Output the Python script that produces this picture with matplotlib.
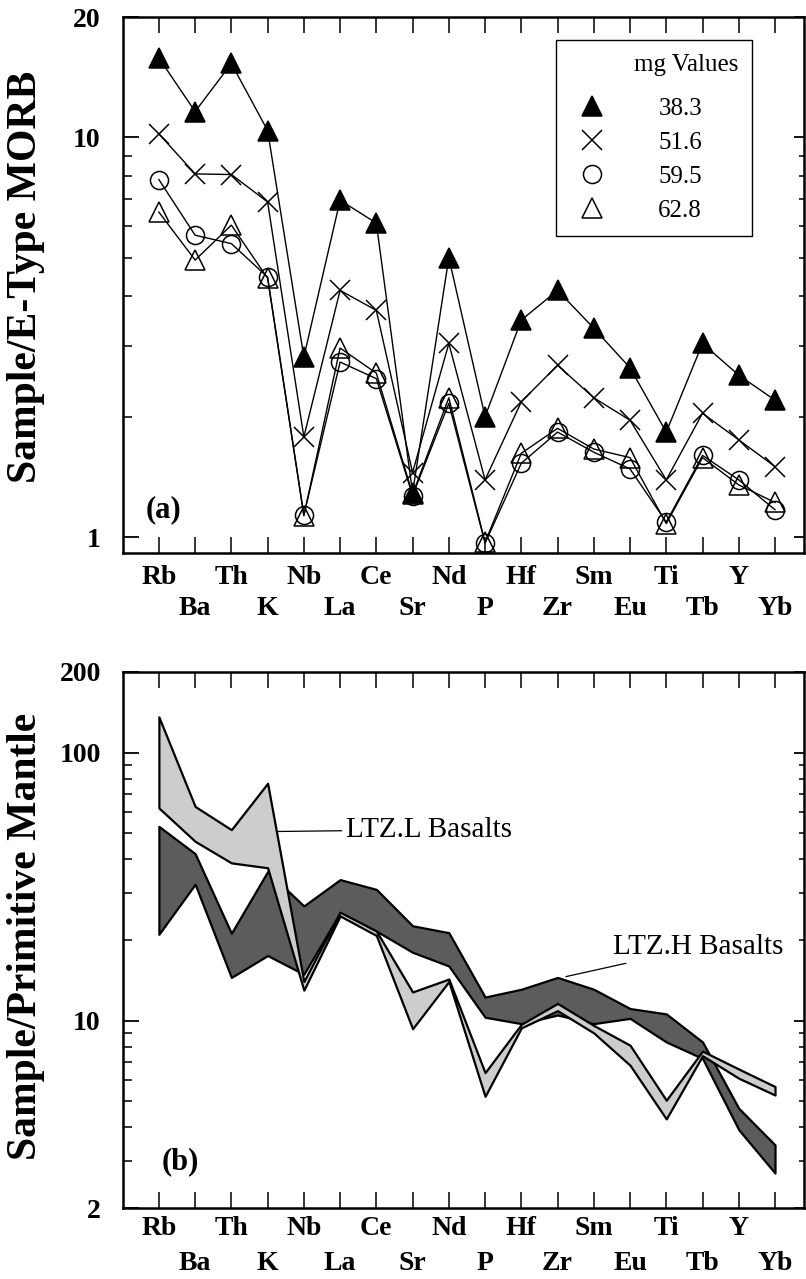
import matplotlib
matplotlib.use('Agg')
import matplotlib.pyplot as plt
from matplotlib.lines import Line2D
from matplotlib.ticker import FixedLocator, NullFormatter
import numpy as np

# element order on the spider diagrams
elements = ['Rb', 'Ba', 'Th', 'K', 'Nb', 'La', 'Ce', 'Sr', 'Nd', 'P',
            'Hf', 'Zr', 'Sm', 'Eu', 'Ti', 'Tb', 'Y', 'Yb']

# (a) sample / E-type MORB, one series per mg value
mg_labels = ['38.3', '51.6', '59.5', '62.8']
mg_383 = [15.8, 11.6, 15.3, 10.4, 2.82, 6.96, 6.1, 1.29, 5.0, 2.0,
          3.49, 4.14, 3.33, 2.65, 1.83, 3.05, 2.54, 2.2]
mg_516 = [10.2, 8.1, 8.07, 6.89, 1.78, 4.14, 3.69, 1.45, 3.05, 1.39,
          2.18, 2.69, 2.23, 1.96, 1.39, 2.04, 1.75, 1.50]
mg_595 = [7.84, 5.69, 5.42, 4.47, 1.135, 2.74, 2.49, 1.27, 2.16, 0.965,
          1.53, 1.83, 1.63, 1.48, 1.09, 1.60, 1.39, 1.17]
mg_628 = [6.5, 4.93, 6.03, 4.44, 1.13, 2.97, 2.57, 1.28, 2.23, 0.97,
          1.62, 1.87, 1.66, 1.58, 1.08, 1.58, 1.35, 1.22]

# (b) sample / primitive mantle, ranges of the two basalt groups
ltzl_upper = [136, 63, 51.6, 76.9, 14.0, 25.4, 21.6, 12.8, 14.3, 6.4,
              9.7, 11.6, 9.6, 8.1, 5.05, 7.7, 6.6, 5.68]
ltzl_lower = [62.2, 46.7, 38.8, 37.2, 13.0, 24.6, 20.8, 9.33, 14.0, 5.22,
              9.4, 10.9, 9.0, 6.82, 4.3, 7.4, 6.1, 5.28]
ltzh_upper = [53.1, 42.0, 21.2, 36.0, 26.8, 33.6, 30.9, 22.6, 21.3, 12.25,
              13.1, 14.5, 13.1, 11.1, 10.6, 8.33, 4.71, 3.44]
ltzh_lower = [21.0, 32.3, 14.5, 17.5, 14.9, 25.3, 21.6, 18.0, 16.0, 10.3,
              9.75, 10.5, 9.75, 10.2, 8.33, 7.23, 3.92, 2.70]

plt.rcParams['font.family'] = ['Liberation Serif', 'DejaVu Serif']

W, H = 806, 1279
fig = plt.figure(figsize=(W / 100, H / 100), dpi=100)


def px_box(left, top, right, bottom):
    return [left / W, 1 - bottom / H, (right - left) / W, (bottom - top) / H]


x = np.arange(len(elements))


def style_axes(ax, ylim, major, minor, ylabel, label_xy, rows):
    ax.set_yscale('log')
    ax.set_xlim(-0.99, 17.8)
    ax.set_ylim(*ylim)
    ax.set_xticks(x)
    ax.set_xticklabels([])
    ax.set_yticks(major)
    ax.set_yticklabels([str(v) for v in major], fontsize=20, fontweight='bold')
    ax.yaxis.set_minor_locator(FixedLocator(minor))
    ax.yaxis.set_minor_formatter(NullFormatter())
    ax.tick_params(axis='x', direction='in', length=11.5, width=1.1,
                   top=True, bottom=True)
    ax.tick_params(axis='y', which='major', direction='in', length=11.5,
                   width=1.3, pad=16)
    ax.tick_params(axis='y', which='minor', direction='in', length=6.5,
                   width=1.1)
    for s in ax.spines.values():
        s.set_linewidth(1.8)
    ax.set_ylabel(ylabel, fontsize=30, fontweight='bold')
    ax.yaxis.set_label_coords(*label_xy)

    # shorter ticks on the right hand side
    tw = ax.twinx()
    tw.set_yscale('log')
    tw.set_ylim(*ylim)
    tw.set_yticks(major)
    tw.set_yticklabels([])
    tw.yaxis.set_minor_locator(FixedLocator(minor))
    tw.yaxis.set_minor_formatter(NullFormatter())
    tw.tick_params(axis='y', which='major', direction='in', length=7, width=1.3)
    tw.tick_params(axis='y', which='minor', direction='in', length=3.6, width=1.1)
    for s in tw.spines.values():
        s.set_visible(False)

    trans = ax.get_xaxis_transform()
    for i, el in enumerate(elements):
        ax.text(i, rows[i % 2], el, transform=trans, ha='center', va='center',
                fontsize=20, fontweight='bold')


# ---- panel (a)
ax1 = fig.add_axes(px_box(123, 17, 804, 553))
style_axes(ax1, (0.912, 20), [1, 10, 20], [2, 3, 4, 5, 6, 7, 8, 9],
           'Sample/E-Type MORB', (-0.1145, 0.515), (-0.045, -0.103))

styles = [
    (mg_628, dict(marker='^', mfc='none', ms=14.5)),
    (mg_595, dict(marker='o', mfc='none', ms=13)),
    (mg_516, dict(marker='x', ms=14)),
    (mg_383, dict(marker='^', mfc='black', ms=15)),
]
for vals, st in styles:
    ax1.plot(x, vals, color='black', lw=1.0, mew=1.1, clip_on=False, **st)

handles = [Line2D([], [], color='black', ls='none', mew=1.1, **st)
           for _, st in styles[::-1]]
leg = ax1.legend(handles, mg_labels, title='mg Values\n', loc='upper left',
                 bbox_to_anchor=((556 - 123) / 681, (553 - 40) / 536 - 0.5,
                                 (752 - 556) / 681, 0.5),
                 mode='expand', alignment='right', fontsize=18,
                 title_fontsize=18, frameon=True, fancybox=False,
                 edgecolor='black', framealpha=1, borderpad=0.55,
                 handlelength=1.8, handletextpad=1.74, labelspacing=0.46,
                 borderaxespad=0)
leg.get_title().set_linespacing(0.3)
leg.get_frame().set_linewidth(1.0)

ax1.text(0.060, 0.080, '(a)', transform=ax1.transAxes, fontsize=22,
         fontweight='bold', ha='center', va='center')

# ---- panel (b)
ax2 = fig.add_axes(px_box(123, 672, 804, 1208))
style_axes(ax2, (2, 200), [2, 10, 100, 200],
           [3, 4, 5, 6, 7, 8, 9, 20, 30, 40, 50, 60, 70, 80, 90],
           'Sample/Primitive Mantle', (-0.1145, 0.506), (-0.039, -0.104))

ax2.fill_between(x, ltzh_lower, ltzh_upper, facecolor='#5c5c5c',
                 edgecolor='black', linewidth=1.6, zorder=2)
ax2.fill_between(x, ltzl_lower, ltzl_upper, facecolor='#cdcdcd',
                 edgecolor='black', linewidth=1.6, zorder=3)

ax2.annotate('LTZ.L Basalts', xy=(3.26, 50.8), xytext=(5.16, 51.6),
             fontsize=21, ha='left', va='center',
             arrowprops=dict(arrowstyle='-', lw=0.9, color='black',
                             shrinkA=1, shrinkB=0))
ax2.annotate('LTZ.H Basalts', xy=(11.23, 14.6), xytext=(12.53, 18.8),
             fontsize=21, ha='left', va='center',
             arrowprops=dict(arrowstyle='-', lw=0.9, color='black',
                             shrinkA=1, shrinkB=0))

ax2.text(0.0837, 0.0858, '(b)', transform=ax2.transAxes, fontsize=22,
         fontweight='bold', ha='center', va='center')

fig.savefig('out.png', dpi=100)
